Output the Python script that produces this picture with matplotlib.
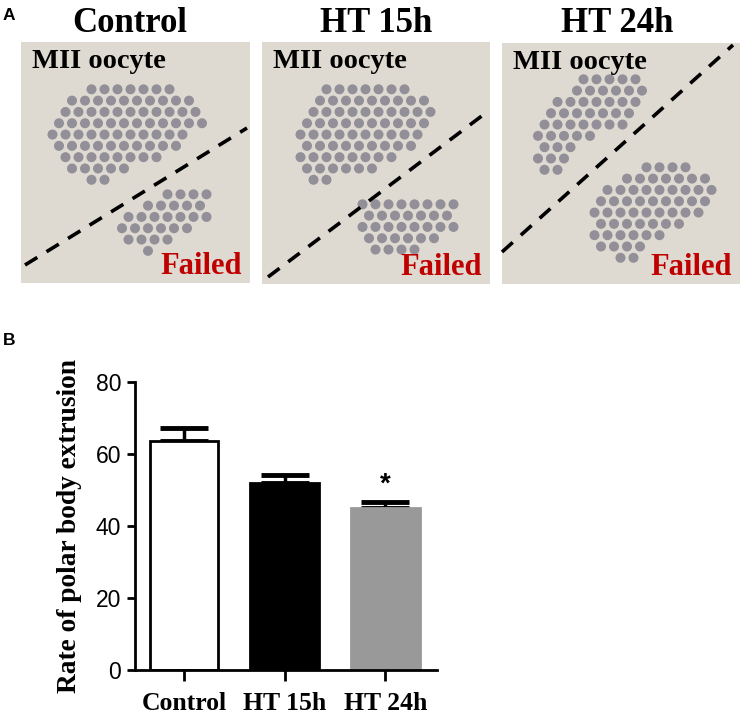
import numpy as np
import matplotlib
matplotlib.use("Agg")
import matplotlib.pyplot as plt
from matplotlib.path import Path
from matplotlib.patches import Rectangle

# ---------------- data ----------------
groups = ["Control", "HT 15h", "HT 24h"]
rates = [63.7, 52.1, 45.0]
sem = [3.7, 2.0, 1.6]
bar_colors = ["white", "black", "#999999"]
edge_colors = ["black", "black", "#999999"]
significance = ["", "", "*"]
yticks = [0, 20, 40, 60, 80]

W, H = 740, 717
fig = plt.figure(figsize=(W / 100, H / 100), dpi=100)
SERIF = ["Liberation Serif", "DejaVu Serif"]
SANS = ["Liberation Sans", "DejaVu Sans"]

# ---------------- panel A (schematic of micrographs) ----------------
ov = fig.add_axes([0, 0, 1, 1])
ov.set_xlim(0, W)
ov.set_ylim(H, 0)
ov.axis("off")

panels = [
    dict(title="Control", tx=130, box=(21, 42, 229, 241),
         line=((25, 265), (247, 128)),
         clusters=[[(95, 82), (145, 78), (185, 92), (207, 125), (175, 150),
                    (130, 170), (90, 187), (58, 160), (46, 135), (60, 108)],
                   [(122, 222), (165, 188), (212, 183), (210, 215),
                    (175, 240), (142, 254), (122, 240)]]),
    dict(title="HT 15h", tx=376, box=(262, 42, 228, 242),
         line=((268, 277), (487, 112)),
         clusters=[[(320, 82), (382, 78), (430, 98), (432, 130), (400, 160),
                    (350, 176), (310, 187), (294, 150), (300, 118)],
                   [(358, 205), (400, 193), (460, 205), (452, 232),
                    (410, 252), (370, 260), (356, 232)]]),
    dict(title="HT 24h", tx=617, box=(502, 43, 238, 241),
         line=((502, 252), (733, 45)),
         clusters=[[(588, 68), (642, 68), (650, 90), (640, 115), (610, 132),
                    (580, 147), (560, 182), (538, 176), (538, 135), (558, 100)],
                   [(640, 163), (690, 156), (706, 180), (720, 205),
                    (682, 222), (652, 247), (620, 268), (598, 247),
                    (588, 220), (610, 185)]]),
]

sp = 13.0
for p in panels:
    x0, y0, w, h = p["box"]
    ov.add_patch(Rectangle((x0, y0), w, h, facecolor="#dedad2",
                           edgecolor="none", zorder=1))
    for poly in p["clusters"]:
        path = Path(poly + [poly[0]])
        xs_all, ys_all = [], []
        xmin = min(q[0] for q in poly); xmax = max(q[0] for q in poly)
        ymin = min(q[1] for q in poly); ymax = max(q[1] for q in poly)
        row = 0
        yy = ymin
        while yy <= ymax:
            off = (sp / 2) if row % 2 else 0
            xx = xmin + off
            while xx <= xmax:
                if path.contains_point((xx, yy)):
                    xs_all.append(xx); ys_all.append(yy)
                xx += sp
            yy += sp * 0.87
            row += 1
        ov.scatter(xs_all, ys_all, s=52, color="#8a8792", edgecolors="none",
                   alpha=0.9, zorder=2)
    (lx0, ly0), (lx1, ly1) = p["line"]
    ov.plot([lx0, lx1], [ly0, ly1], color="black", lw=2.6,
            dashes=(4, 3), zorder=3)
    ov.text(x0 + 11, y0 + 26, "MII oocyte", family=SERIF, weight="bold",
            fontsize=20.5, color="black", va="baseline", ha="left", zorder=4)
    ov.text(x0 + w - 8, y0 + h - 9, "Failed", family=SERIF, weight="bold",
            fontsize=22, color="#c00000", va="baseline", ha="right", zorder=4)
    ov.text(p["tx"], 32, p["title"], family=SERIF, weight="bold",
            fontsize=25, color="black", va="baseline", ha="center")

ov.text(3, 20, "A", family=SANS, weight="bold", fontsize=12.5, va="baseline")
ov.text(3, 345, "B", family=SANS, weight="bold", fontsize=12.5, va="baseline")

# ---------------- panel B (bar chart) ----------------
ax = fig.add_axes([135 / W, (H - 670) / H, (436.7 - 135) / W,
                   (670 - 382.3) / H])
x = np.arange(len(groups))
ax.bar(x, rates, width=0.68, color=bar_colors, edgecolor=edge_colors,
       linewidth=2, zorder=2)
ax.errorbar(x, rates, yerr=[np.zeros(len(sem)), sem], fmt="none",
            ecolor="black", elinewidth=2.5, capsize=17, capthick=3.5,
            zorder=1)
for xi, r, e, s in zip(x, rates, sem, significance):
    if s:
        ax.text(xi, r + e + 1.2, s, ha="center", va="bottom",
                fontsize=20, family=SANS, weight="bold")

ax.set_xlim(-0.487, 2.51)
ax.set_ylim(0, 80)
ax.set_yticks(yticks)
ax.set_xticks(x)
ax.set_xticklabels(groups, family=SERIF, weight="bold", fontsize=18.5)
ax.tick_params(axis="y", labelsize=16.5, width=2, length=6, pad=4)
ax.tick_params(axis="x", width=2, length=8, pad=8)
for lab in ax.get_yticklabels():
    lab.set_family(SANS)
for s in ["top", "right"]:
    ax.spines[s].set_visible(False)
for s in ["left", "bottom"]:
    ax.spines[s].set_linewidth(2)
ax.set_ylabel("Rate of polar body extrusion", family=SERIF, weight="bold",
              fontsize=19.7, labelpad=10)

fig.savefig("out.png", dpi=100)
